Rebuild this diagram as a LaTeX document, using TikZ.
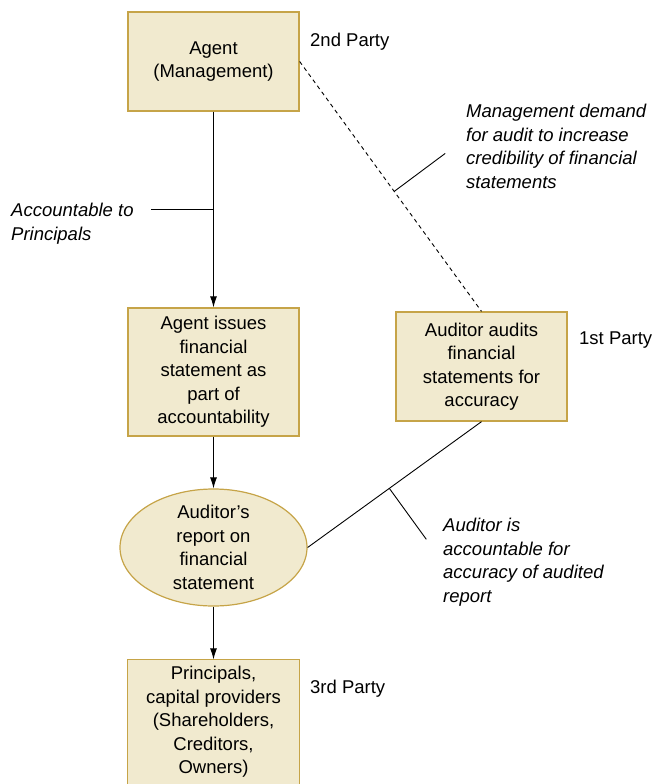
\documentclass[tikz,border=0pt]{standalone}
\usepackage{fontspec}
\setmainfont{Liberation Sans}
\usetikzlibrary{arrows.meta,shapes.geometric}
\definecolor{boxfill}{RGB}{241,234,207}
\definecolor{boxline}{RGB}{198,164,72}
\begin{document}
\begin{tikzpicture}[x=1pt,y=-1pt,
  txt/.style={font=\fontsize{18.5}{23.5}\selectfont},
  partybox/.style={txt,draw=boxline,fill=boxfill,line width=1.3pt,
    minimum width=171pt,inner sep=0pt,align=center},
  reportshape/.style={ellipse,draw=boxline,fill=boxfill,line width=1.2pt,
    minimum width=187pt,minimum height=117pt,inner sep=0pt},
  note/.style={font=\fontsize{18.5}{23.5}\selectfont\itshape,
    anchor=north west,inner sep=0pt,align=left},
  party/.style={txt,anchor=north west,inner sep=0pt},
  flow/.style={line width=0.9pt,-{Latex[length=11pt,width=7pt]}},
  link/.style={line width=0.9pt},
  tick/.style={line width=0.9pt}]
\useasboundingbox (0,0) rectangle (653,784);

% boxes
\node[partybox,minimum height=99pt] (agent) at (213.5,61.5)
  {Agent\\(Management)};
\node[partybox,minimum height=128pt] (issue) at (213.5,372)
  {Agent issues\\financial\\statement as\\part of\\accountability};
\node[partybox,minimum height=109pt] (auditor) at (481.5,366.5)
  {Auditor audits\\financial\\statements for\\accuracy};
\node[reportshape] (report) at (213.5,547.5) {};
\node[txt,align=center,inner sep=0pt] (reporttext) at (report.center)
  {Auditor’s\\report on\\financial\\statement};
\node[partybox,draw=none,minimum height=124pt] (principals) at (213.5,722)
  {Principals,\\capital providers\\(Shareholders,\\Creditors,\\Owners)};
\draw[boxline,line width=1.3pt]
  (principals.south west) -- (principals.north west)
  -- (principals.north east) -- (principals.south east);

% party labels
\node[party] (p2) at (310,33) {2nd Party};
\node[party] (p1) at (579,332) {1st Party};
\node[party] (p3) at (310,680) {3rd Party};

% flow of accountability
\draw[flow] (agent.south) -- (issue.north);
\draw[flow] (issue.south) -- (report.north);
\draw[flow] (report.south) -- (principals.north);

% links to the auditor
\draw[link,dashed,dash pattern=on 4pt off 3.5pt]
  (agent.east) -- (auditor.north) coordinate[pos=0.52] (m1);
\draw[link] (report.east) -- (auditor.south) coordinate[pos=0.47] (m2);
\coordinate (m3) at (213.5,209);

% annotations
\node[note] (n1) at (466,104)
  {Management demand\\for audit to increase\\credibility of financial\\statements};
\node[note] (n2) at (11,203) {Accountable to\\Principals};
\node[note] (n3) at (443,518)
  {Auditor is\\accountable for\\accuracy of audited\\report};

\draw[tick] (m1) -- ++(51,-38) coordinate (t1);
\draw[tick] (m2) -- ++(37,51) coordinate (t2);
\draw[tick] (m3) -- ++(-63,0) coordinate (t3);
\end{tikzpicture}
\end{document}
